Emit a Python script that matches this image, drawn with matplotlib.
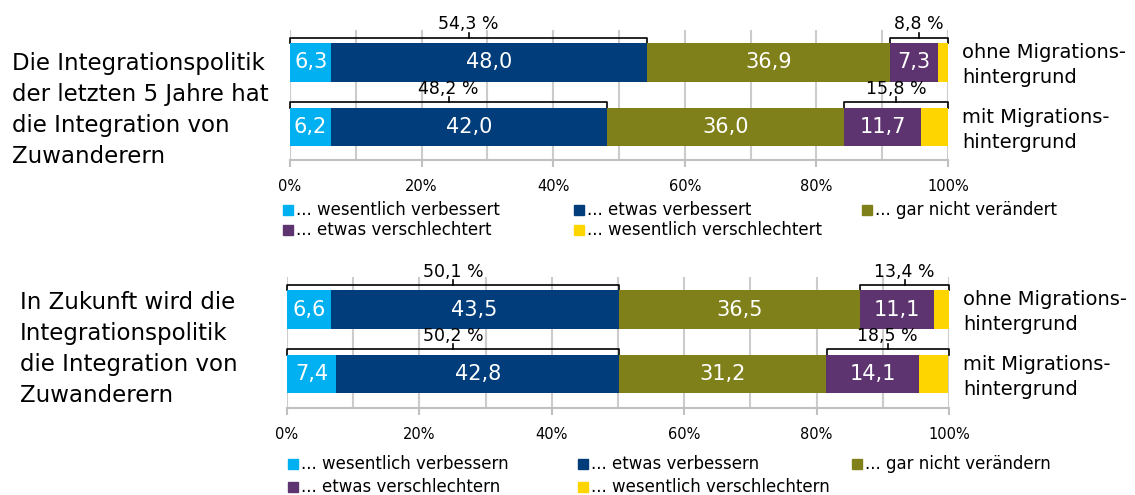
import matplotlib.pyplot as plt
from matplotlib.patches import Rectangle

# DATA
groups = ["ohne Migrations-\nhintergrund", "mit Migrations-\nhintergrund"]

# Panel 1: Integrationspolitik der letzten 5 Jahre
past_wes_verb = [6.3, 6.2]
past_etw_verb = [48.0, 42.0]
past_unveraendert = [36.9, 36.0]
past_etw_versch = [7.3, 11.7]
past_wes_versch = [1.5, 4.1]

# Panel 2: Zukunft
fut_wes_verb = [6.6, 7.4]
fut_etw_verb = [43.5, 42.8]
fut_unveraendert = [36.5, 31.2]
fut_etw_versch = [11.1, 14.1]
fut_wes_versch = [2.3, 4.4]

past_labels = ["... wesentlich verbessert", "... etwas verbessert", "... gar nicht verändert",
               "... etwas verschlechtert", "... wesentlich verschlechtert"]
fut_labels = ["... wesentlich verbessern", "... etwas verbessern", "... gar nicht verändern",
              "... etwas verschlechtern", "... wesentlich verschlechtern"]

past_title = "Die Integrationspolitik\nder letzten 5 Jahre hat\ndie Integration von\nZuwanderern"
fut_title = "In Zukunft wird die\nIntegrationspolitik\ndie Integration von\nZuwanderern"

tick_vals = [0, 20, 40, 60, 80, 100]
tick_labels = ["0%", "20%", "40%", "60%", "80%", "100%"]

colors = ["#00b0f0", "#003d7a", "#80801a", "#5e3470", "#ffd500"]

W, H = 1135, 495
fig = plt.figure(figsize=(W / 100, H / 100), dpi=100)


def px_axes(left, top, right, bottom):
    return fig.add_axes([left / W, 1 - bottom / H, (right - left) / W, (bottom - top) / H])


def fmt(v):
    return f"{v:.1f}".replace(".", ",")


def bracket(ax, x0, x1, y_bar, total):
    yb = y_bar + 0.38
    xm = (x0 + x1) / 2
    ax.plot([x0, x0, x1, x1], [y_bar + 0.3, yb, yb, y_bar + 0.3], color="black", lw=1.2,
            clip_on=False, solid_joinstyle="round")
    ax.plot([xm, xm], [yb, yb + 0.08], color="black", lw=1.2, clip_on=False)
    ax.text(xm, yb + 0.13, fmt(total) + " %", ha="center", va="baseline", fontsize=12.5)


def panel(ax, series, ylim):
    ypos = [1, 0]
    left = [0, 0]
    for vals, col in zip(series, colors):
        ax.barh(ypos, vals, left=left, height=0.6, color=col, zorder=3)
        for y, l, v in zip(ypos, left, vals):
            if v >= 5:
                ax.text(l + v / 2, y, fmt(v), ha="center", va="center", color="white",
                        fontsize=15, zorder=4)
        left = [a + b for a, b in zip(left, vals)]
    for i, y in enumerate(ypos):
        pos = series[0][i] + series[1][i]
        neg = series[3][i] + series[4][i]
        bracket(ax, 0, pos, y, pos)
        bracket(ax, 100 - neg, 100, y, neg)
        ax.text(102.1, y - 0.04, groups[i], ha="left", va="center", fontsize=14, linespacing=1.4)
    ax.set_xlim(0, 100)
    ax.set_ylim(*ylim)
    ax.set_xticks(range(0, 101, 10), minor=True)
    ax.set_xticks(tick_vals)
    ax.set_xticklabels(tick_labels, fontsize=10.5)
    ax.grid(axis="x", which="both", color="#cccccc", lw=1.5, zorder=0)
    ax.tick_params(axis="x", which="major", length=5, color="#c0c0c0", width=1.5, pad=9)
    ax.tick_params(axis="x", which="minor", length=0)
    ax.set_yticks([])
    for s in ["top", "left", "right"]:
        ax.spines[s].set_visible(False)
    ax.spines["bottom"].set_color("#c0c0c0")
    ax.spines["bottom"].set_linewidth(1.5)


def legend(labels, xs, ys):
    for i, (lab, col) in enumerate(zip(labels, colors)):
        x = xs[i % 3]
        y = ys[i // 3]
        fig.add_artist(Rectangle((x / W, 1 - (y + 5) / H), 10 / W, 10 / H, color=col,
                                 transform=fig.transFigure))
        fig.text((x + 13) / W, 1 - y / H, lab, ha="left", va="center", fontsize=12)


ax1 = px_axes(290, 30, 948, 160)
panel(ax1, [past_wes_verb, past_etw_verb, past_unveraendert, past_etw_versch, past_wes_versch],
      (-0.51, 1.5))
legend(past_labels, [283, 574, 862], [210, 230])
fig.text(12 / W, 1 - 110 / H, past_title, ha="left", va="center", fontsize=16.5, linespacing=1.46)

ax2 = px_axes(287, 277, 949, 408)
panel(ax2, [fut_wes_verb, fut_etw_verb, fut_unveraendert, fut_etw_versch, fut_wes_versch],
      (-0.527, 1.504))
legend(fut_labels, [288, 578, 852], [464, 487])
fig.text(20 / W, 1 - 349 / H, fut_title, ha="left", va="center", fontsize=16.5, linespacing=1.46)

fig.savefig("out.png", dpi=100)
